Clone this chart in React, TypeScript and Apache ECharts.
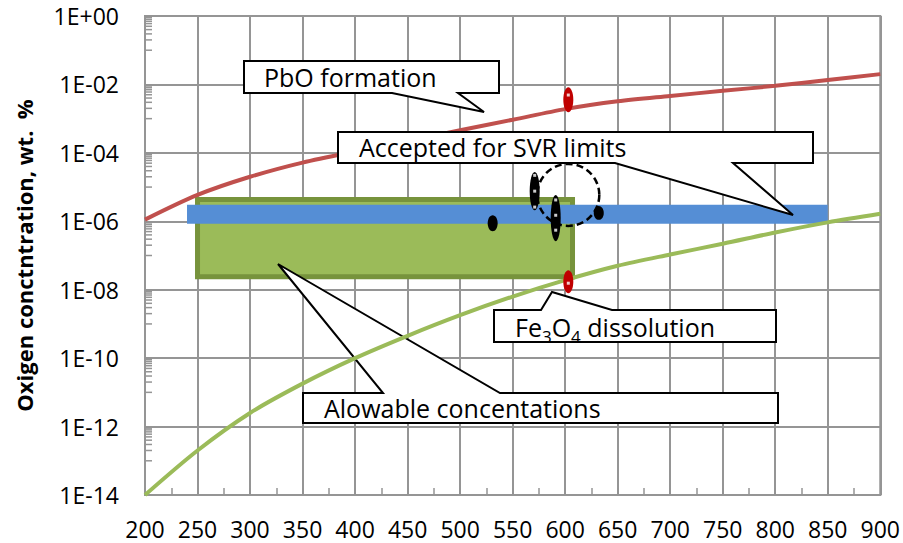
import React, { useEffect, useRef } from 'react';
import * as echarts from 'echarts';

// Temperature, °C
const temperatures = [200, 250, 300, 350, 400, 450, 500, 550, 600, 650, 700, 750, 800, 850, 900];
// Oxygen concentration, wt.% — PbO formation boundary
const pboFormation = [1.12e-6, 5.9e-6, 2.0e-5, 5.2e-5, 1.1e-4, 2.2e-4, 4.6e-4, 9.3e-4, 1.9e-3, 3.2e-3, 4.6e-3, 6.5e-3, 9.1e-3, 1.35e-2, 2.0e-2];
// Oxygen concentration, wt.% — Fe3O4 dissolution boundary
const fe3o4Dissolution = [1e-14, 2.0e-13, 2.5e-12, 1.8e-11, 1.0e-10, 4.5e-10, 1.8e-9, 6.3e-9, 1.9e-8, 5.0e-8, 1.07e-7, 2.2e-7, 4.7e-7, 9.3e-7, 1.66e-6];
// Accepted for SVR limits band
const svrLimitX = [240, 850];
const svrLimitValue = 1.6e-6;
// Allowable concentrations box: [xFrom, yTop, xTo, yBottom]
const allowableBox = [250, 4.3e-6, 607, 2.4e-8];
// Measured ranges: [x, yHigh, yLow]
const blackRanges = [
  [531, 1.5e-6, 5.1e-7],
  [571, 2.75e-5, 2.1e-6],
  [591, 5.9e-6, 2.6e-7],
  [632, 2.8e-6, 1.1e-6],
];
const redRanges = [
  [603, 8.3e-3, 1.55e-3],
  [603, 3.7e-8, 7.9e-9],
];
const measuredPoints = [
  [571, 2.2e-5], [571, 7.6e-6], [571, 2.6e-6],
  [591, 4.2e-6], [591, 1.5e-6], [591, 5.5e-7],
  [603, 4.9e-3], [603, 1.55e-8],
];
const circledPoint = [603, 5.9e-6];
// Axis
const xMin = 200, xMax = 900, xStep = 50;
const yMin = 1e-14, yMax = 1;
const majorExponents = [0, -2, -4, -6, -8, -10, -12];
const minorMultipliers = [1, 2, 3, 4, 5, 6, 7, 8, 9];

const FONT = '"Open Sans", "Noto Sans", sans-serif';
const GRID_COLOR = '#959595';

export default function App() {
  const ref = useRef<HTMLDivElement>(null);
  useEffect(() => {
    if (!ref.current) return;
    const chart = echarts.init(ref.current, undefined, { renderer: 'svg' });

    const lineData = (ys: number[]) => temperatures.map((t, i) => [t, ys[i]]);
    const minorTicks: number[][] = [];
    majorExponents.forEach((e) => minorMultipliers.forEach((k) => minorTicks.push([xMin, k * Math.pow(10, e - 1)])));

    const callout = (points: number[][], z = 3) => ({
      type: 'polygon', z, silent: true,
      shape: { points },
      style: { fill: '#ffffff', stroke: '#000000', lineWidth: 2, lineJoin: 'miter' },
    });
    const label = (text: string, x: number, y: number, z = 3) => ({
      type: 'text', z, silent: true, x, y,
      style: { text, fill: '#000', font: `25px ${FONT}`, align: 'left', verticalAlign: 'middle' },
    });

    chart.setOption({
      animation: false,
      textStyle: { fontFamily: FONT },
      grid: { left: 145, right: 21, top: 16, bottom: 48, show: true, borderColor: GRID_COLOR, borderWidth: 2, backgroundColor: 'transparent' },
      xAxis: {
        type: 'value', min: xMin, max: xMax, interval: xStep,
        axisLine: { show: true, lineStyle: { color: GRID_COLOR, width: 2 } },
        axisTick: { show: true, inside: true, length: 7, lineStyle: { color: GRID_COLOR, width: 1.5 } },
        minorTick: { show: true, splitNumber: 2, length: 7, lineStyle: { color: GRID_COLOR, width: 1.5 } },
        splitLine: { show: true, lineStyle: { color: GRID_COLOR, width: 2 } },
        axisLabel: { color: '#000', fontSize: 23, margin: 22, fontFamily: FONT },
      },
      yAxis: {
        type: 'log', logBase: 10, min: yMin, max: yMax, interval: 2,
        name: 'Oxigen conctntration, wt.  %', nameLocation: 'middle', nameRotate: 90, nameGap: 110,
        nameTextStyle: { color: '#000', fontSize: 22, fontWeight: 'bold', fontFamily: FONT },
        axisLine: { show: true, lineStyle: { color: GRID_COLOR, width: 2 } },
        axisTick: { show: true, inside: true, length: 7, lineStyle: { color: GRID_COLOR, width: 1.5 } },
        splitLine: { show: true, lineStyle: { color: GRID_COLOR, width: 2 } },
        axisLabel: {
          color: '#000', fontSize: 23, margin: 26, fontFamily: FONT,
          formatter: (v: number) => {
            const e = Math.round(Math.log10(v));
            return '1E' + (e < 0 ? '-' : '+') + String(Math.abs(e)).padStart(2, '0');
          },
        },
      },
      graphic: [
        callout([[244, 61], [499, 61], [499, 93], [458, 93], [484, 112], [392, 93], [244, 93]]),
        label('PbO formation', 264, 77),
        callout([[338, 132], [813, 132], [813, 163], [733, 163], [793, 215], [615, 163], [338, 163]], 4.5),
        label('Accepted for SVR limits', 359, 147, 4.6),
        callout([[494, 310], [541, 310], [552, 292], [612, 310], [776, 310], [776, 342], [494, 342]]),
        {
          type: 'text', z: 3, silent: true, x: 515, y: 327,
          style: {
            text: '{a|Fe}{s|3}{a|O}{s|4}{a| dissolution}', align: 'left', verticalAlign: 'middle',
            rich: {
              a: { fontSize: 25, fontFamily: FONT, color: '#000', lineHeight: 36, verticalAlign: 'middle' },
              s: { fontSize: 17, fontFamily: FONT, color: '#000', lineHeight: 17, verticalAlign: 'bottom' },
            },
          },
        },
        callout([[303, 393], [383, 393], [278, 264], [500, 393], [778, 393], [778, 423], [303, 423]]),
        label('Alowable concentations', 324, 408),
      ],
      series: [
        {
          type: 'custom', name: 'minorTicksY', z: 1, silent: true, data: minorTicks,
          renderItem: (params: any, api: any) => {
            const p = api.coord([api.value(0), api.value(1)]);
            return { type: 'line', shape: { x1: p[0], y1: p[1], x2: p[0] + 7, y2: p[1] }, style: { stroke: GRID_COLOR, lineWidth: 1.5 } };
          },
        },
        {
          type: 'custom', name: 'Allowable', z: 1, silent: true, data: [allowableBox],
          renderItem: (params: any, api: any) => {
            const p1 = api.coord([api.value(0), api.value(1)]);
            const p2 = api.coord([api.value(2), api.value(3)]);
            return {
              type: 'rect',
              shape: { x: p1[0], y: p1[1], width: p2[0] - p1[0], height: p2[1] - p1[1] },
              style: { fill: '#9BBB59', stroke: '#77933C', lineWidth: 5 },
            };
          },
        },
        {
          type: 'line', name: 'SVR', z: 1.5, silent: true, showSymbol: false,
          data: svrLimitX.map((x) => [x, svrLimitValue]),
          lineStyle: { color: '#558ED5', width: 19, cap: 'butt' },
        },
        {
          type: 'line', name: 'PbO formation', z: 4, silent: true, showSymbol: false, smooth: 0.3,
          data: lineData(pboFormation), lineStyle: { color: '#C0504D', width: 4 },
        },
        {
          type: 'line', name: 'Fe3O4 dissolution', z: 4, silent: true, showSymbol: false, smooth: 0.3,
          data: lineData(fe3o4Dissolution), lineStyle: { color: '#9BBB59', width: 4 },
        },
        {
          type: 'custom', name: 'blackRanges', z: 5, silent: true, data: blackRanges,
          renderItem: (params: any, api: any) => {
            const a = api.coord([api.value(0), api.value(1)]);
            const b = api.coord([api.value(0), api.value(2)]);
            return { type: 'ellipse', shape: { cx: a[0], cy: (a[1] + b[1]) / 2, rx: 5, ry: (b[1] - a[1]) / 2 }, style: { fill: '#000' } };
          },
        },
        {
          type: 'custom', name: 'redRanges', z: 5, silent: true, data: redRanges,
          renderItem: (params: any, api: any) => {
            const a = api.coord([api.value(0), api.value(1)]);
            const b = api.coord([api.value(0), api.value(2)]);
            return { type: 'ellipse', shape: { cx: a[0], cy: (a[1] + b[1]) / 2, rx: 5, ry: (b[1] - a[1]) / 2 }, style: { fill: '#C00000' } };
          },
        },
        {
          type: 'custom', name: 'circle', z: 5, silent: true, data: [circledPoint],
          renderItem: (params: any, api: any) => {
            const c = api.coord([api.value(0), api.value(1)]);
            return { type: 'circle', shape: { cx: c[0], cy: c[1], r: 31 }, style: { fill: 'none', stroke: '#000', lineWidth: 2.5, lineDash: [7, 4] } };
          },
        },
        {
          type: 'scatter', name: 'points', z: 6, silent: true, symbol: 'rect', symbolSize: 3,
          data: measuredPoints, itemStyle: { color: '#fff' },
        },
      ],
    });
    return () => chart.dispose();
  }, []);
  return <div ref={ref} style={{ position: 'fixed', left: 0, top: 0, width: 903, height: 543, background: '#fff' }} />;
}
